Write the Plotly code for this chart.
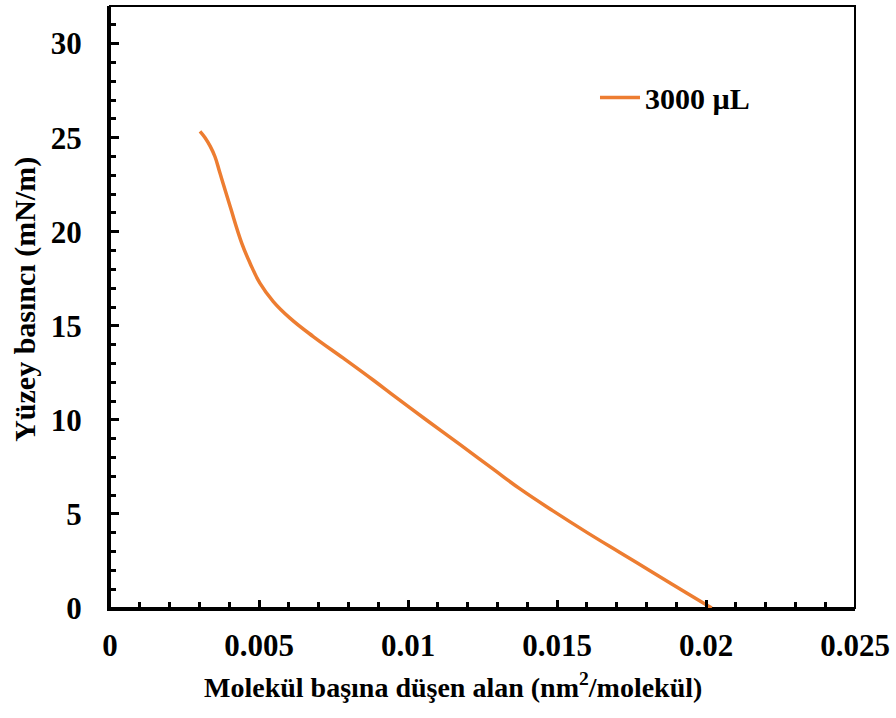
import plotly.graph_objects as go

# Surface pressure isotherm (3000 µL spread volume)
area = [0.00302, 0.00319, 0.00336, 0.00352, 0.00369, 0.00403, 0.00442, 0.00470,
        0.00503, 0.00548, 0.00604, 0.00682, 0.00783, 0.00883, 0.00961, 0.01063,
        0.01175, 0.01286, 0.01376, 0.01488, 0.01600, 0.01711, 0.01823, 0.01935,
        0.02019]
pressure = [25.34, 25.00, 24.55, 24.00, 23.12, 21.35, 19.40, 18.33,
            17.27, 16.29, 15.41, 14.43, 13.28, 12.12, 11.18, 9.98,
            8.68, 7.38, 6.33, 5.15, 4.02, 2.95, 1.88, 0.80,
            0.0]
series_name = "3000 µL"

x_ticks = [0, 0.005, 0.01, 0.015, 0.02, 0.025]
x_labels = ["0", "0.005", "0.01", "0.015", "0.02", "0.025"]
y_ticks = [0, 5, 10, 15, 20, 25, 30]

FONT = "Liberation Serif"
TICK_FS = 31
TITLE_FS = 28

fig = go.Figure()
fig.add_trace(go.Scatter(
    x=area, y=pressure, mode="lines", name="<b>%s</b>" % series_name,
    line=dict(color="#ED7D31", width=3.5, shape="spline", smoothing=1.2),
))

fig.update_layout(
    width=896, height=718,
    margin=dict(l=110, r=41, t=6, b=110),
    paper_bgcolor="white", plot_bgcolor="white",
    font=dict(family=FONT, size=TICK_FS, color="black"),
    showlegend=True,
    legend=dict(x=0.651, y=0.848, xanchor="left", yanchor="middle",
                bgcolor="rgba(0,0,0,0)", font=dict(family=FONT, size=30, color="black"),
                itemwidth=40),
    shapes=[dict(type="rect", xref="paper", yref="paper", x0=0, y0=0, x1=1, y1=1,
                 line=dict(color="black", width=2), layer="below")],
    annotations=[
        dict(text="<b>Molekül başına düşen alan (nm<sup>2</sup>/molekül)</b>",
             xref="paper", yref="paper", x=0.46, y=-0.128, xanchor="center", yanchor="middle",
             showarrow=False, font=dict(family=FONT, size=TITLE_FS, color="black")),
        dict(text="<b>Yüzey basıncı (mN/m)</b>", textangle=-90,
             xref="paper", yref="paper", x=-0.114, y=0.512, xanchor="center", yanchor="middle",
             showarrow=False, font=dict(family=FONT, size=30, color="black")),
    ],
)

fig.update_xaxes(
    range=[0, 0.025], tickvals=x_ticks, ticktext=["<b>%s</b>" % t for t in x_labels],
    showgrid=False, zeroline=False,
    showline=True, linecolor="black", linewidth=3,
    ticks="inside", ticklen=8, tickwidth=2.5, tickcolor="black",
    ticklabelstandoff=8,
    minor=dict(dtick=0.001, ticks="inside", ticklen=6, tickwidth=2.5, tickcolor="black", showgrid=False),
)
fig.update_yaxes(
    range=[0, 32], tickvals=y_ticks, ticktext=["<b>%d</b>" % t for t in y_ticks],
    showgrid=False, zeroline=False,
    showline=True, linecolor="black", linewidth=3,
    ticks="inside", ticklen=9, tickwidth=2.5, tickcolor="black",
    ticklabelstandoff=19,
    minor=dict(dtick=1, ticks="inside", ticklen=6, tickwidth=2.5, tickcolor="black", showgrid=False),
)

fig.write_html("out.html")
